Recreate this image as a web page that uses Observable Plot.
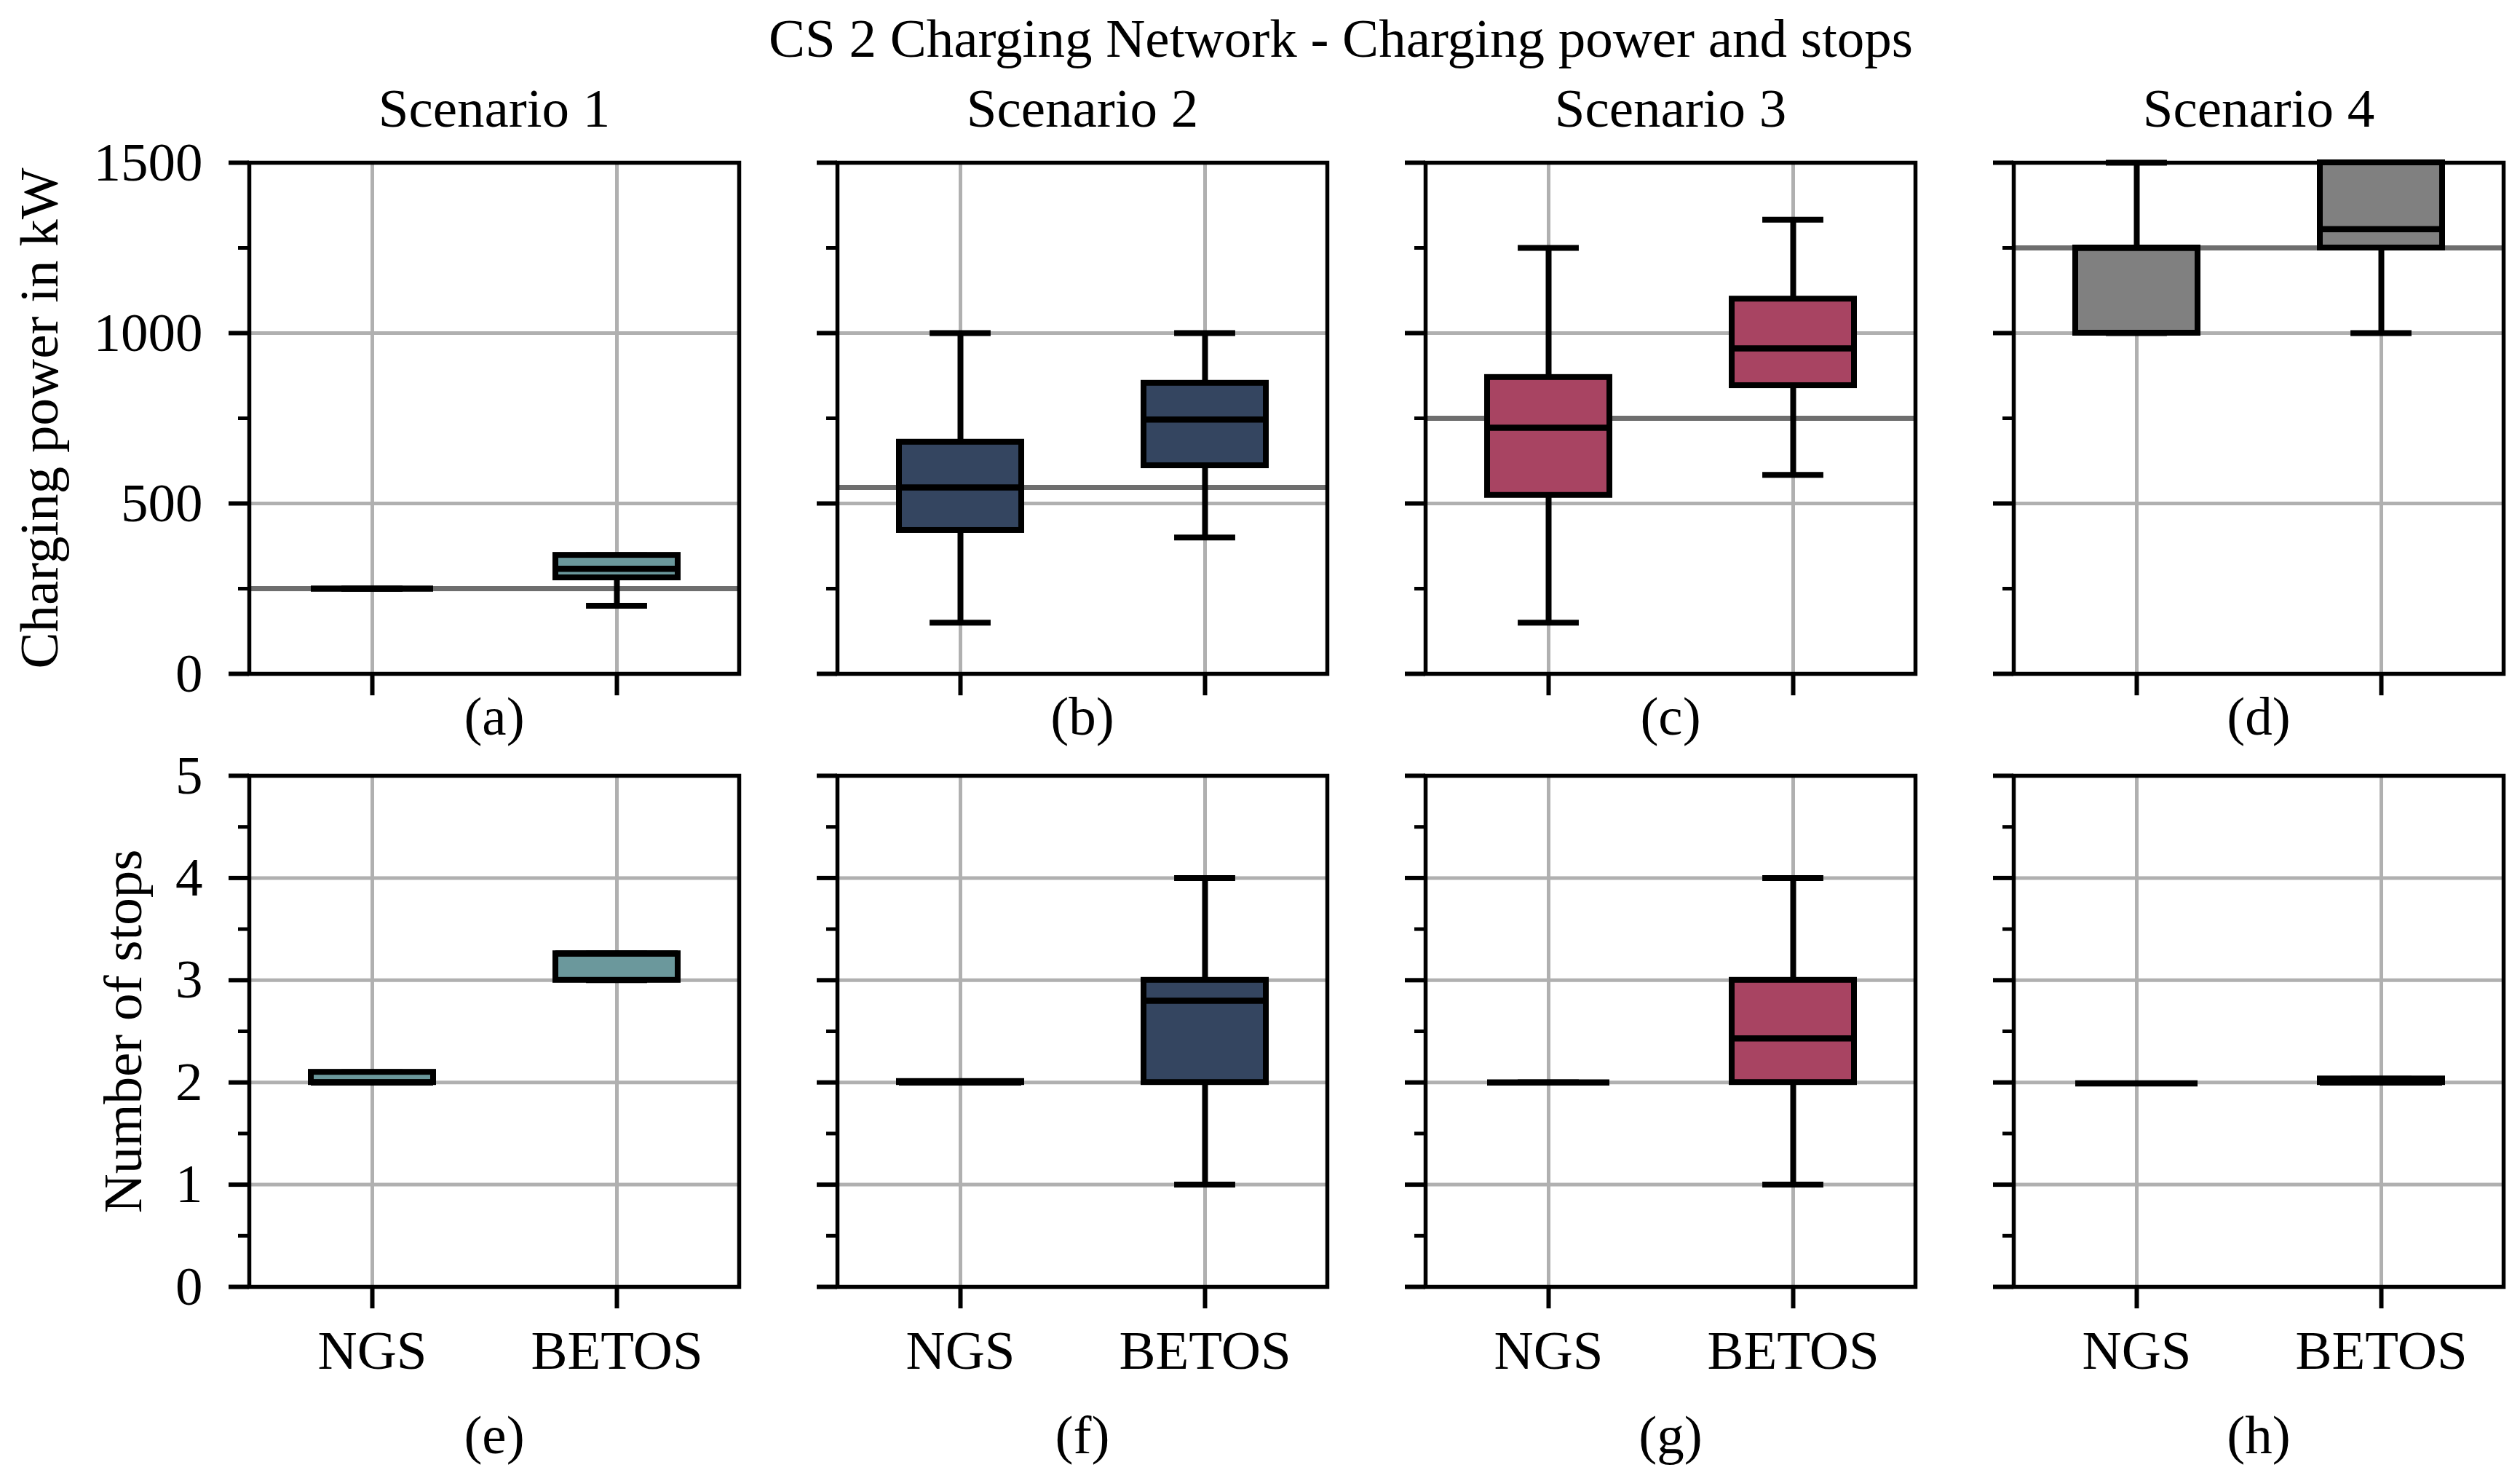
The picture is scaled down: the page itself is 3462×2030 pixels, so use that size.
<!DOCTYPE html>
<html>
<head>
<meta charset="utf-8">
<script src="https://cdn.jsdelivr.net/npm/d3@7"></script>
<script src="https://cdn.jsdelivr.net/npm/@observablehq/plot@0.6"></script>
<style>
  html, body { margin: 0; padding: 0; background: white; }
  #chart { position: relative; width: 3462px; height: 2030px; background: white; font-family: "Liberation Serif", serif; }
  #chart svg { position: absolute; background: transparent; }
  #title { position: absolute; top: 15px; left: 1842px; transform: translateX(-50%); font-size: 75px; line-height: 75px; white-space: nowrap; color: black; }
</style>
</head>
<body>
<div id="chart"><div id="title">CS 2 Charging Network - Charging power and stops</div></div>
<script>
const scenarios = ["Scenario 1", "Scenario 2", "Scenario 3", "Scenario 4"];
const categories = ["NGS", "BETOS"];
const scenarioColors = ["#6b989c", "#344560", "#a84462", "#808080"];
const powerLetters = ["(a)", "(b)", "(c)", "(d)"];
const stopsLetters = ["(e)", "(f)", "(g)", "(h)"];
const powerLabel = "Charging power in kW";
const stopsLabel = "Number of stops";
const powerTicks = [0, 500, 1000, 1500];
const powerMinorTicks = [250, 750, 1250];
const stopsTicks = [0, 1, 2, 3, 4, 5];
const stopsMinorTicks = [0.5, 1.5, 2.5, 3.5, 4.5];

// per scenario: [NGS, BETOS]
const powerMin    = [[250, 200], [150, 400], [150, 584], [1000, 1000]];
const powerQ1     = [[250, 282], [421, 611], [524, 846], [1000, 1250]];
const powerMedian = [[250, 308], [547, 746], [722, 955], [1250, 1305]];
const powerQ3     = [[250, 348], [680, 853], [870, 1100], [1250, 1500]];
const powerMax    = [[250, 348], [1000, 1000], [1250, 1333], [1500, 1500]];
const powerReference = [250, 547, 750, 1250];

const stopsMin    = [[2, 3], [2, 1], [2, 1], [1.99, 2]];
const stopsQ1     = [[2, 3], [2, 2], [2, 2], [1.99, 2]];
const stopsMedian = [[2, 3.26], [2, 2.8], [2, 2.43], [1.99, 2]];
const stopsQ3     = [[2.1, 3.26], [2.01, 3], [2, 3], [1.99, 2.035]];
const stopsMax    = [[2.1, 3.26], [2.01, 4], [2, 4], [1.99, 2.035]];

const chart = document.getElementById("chart");

const FRAME_W = 673, FRAME_H = 702;
const colLefts = [342, 1150, 1958, 2766];
const rows = [
  {frameTop: 223, marginTop: 123, marginBottom: 100, domain: [0, 1500], ticks: powerTicks, minor: powerMinorTicks,
   letters: powerLetters, label: powerLabel, labelX: 78, letterDy: 83, top: true,
   stats: [powerMin, powerQ1, powerMedian, powerQ3, powerMax], ref: powerReference},
  {frameTop: 1065, marginTop: 40, marginBottom: 250, domain: [0, 5], ticks: stopsTicks, minor: stopsMinorTicks,
   letters: stopsLetters, label: stopsLabel, labelX: 193, letterDy: 228, top: false,
   stats: [stopsMin, stopsQ1, stopsMedian, stopsQ3, stopsMax], ref: null}
];

const bandwidth = FRAME_W / 2 * 0.5;
const capInset = bandwidth / 4;

rows.forEach((row) => {
  scenarios.forEach((scen, s) => {
    const ML = s === 0 ? 342 : 60;
    const MR = 20;
    const data = categories.map((cat, c) => ({
      cat,
      lo: row.stats[0][s][c], q1: row.stats[1][s][c], med: row.stats[2][s][c],
      q3: row.stats[3][s][c], hi: row.stats[4][s][c]
    }));
    const marks = [
      Plot.gridY(row.ticks, {stroke: "#b0b0b0", strokeOpacity: 1, strokeWidth: 5}),
      Plot.gridX(categories, {stroke: "#b0b0b0", strokeOpacity: 1, strokeWidth: 5}),
    ];
    if (row.ref) marks.push(Plot.ruleY([row.ref[s]], {stroke: "#6e6e6e", strokeWidth: 7}));
    marks.push(
      Plot.ruleX(data, {x: "cat", y1: "lo", y2: "hi", stroke: "black", strokeWidth: 8}),
      Plot.tickY(data, {x: "cat", y: "lo", stroke: "black", strokeWidth: 8, insetLeft: capInset, insetRight: capInset}),
      Plot.tickY(data, {x: "cat", y: "hi", stroke: "black", strokeWidth: 8, insetLeft: capInset, insetRight: capInset}),
      Plot.barY(data, {x: "cat", y1: "q1", y2: "q3", fill: scenarioColors[s], stroke: "black", strokeWidth: 8}),
      Plot.tickY(data, {x: "cat", y: "med", stroke: "black", strokeWidth: 8.5}),
      Plot.frame({stroke: "black", strokeWidth: 5.5}),
      s === 0
        ? Plot.axisY({ticks: row.ticks, tickSize: 28, tickPadding: 36, strokeWidth: 6, label: null, tickFormat: d => String(d)})
        : Plot.axisY({ticks: row.ticks, tickSize: 28, strokeWidth: 6, fill: "none", label: null}),
      Plot.axisY({ticks: row.minor, tickSize: 15, strokeWidth: 5, fill: "none", label: null}),
      row.top
        ? Plot.axisX({tickSize: 30, strokeWidth: 6, fill: "none", label: null})
        : Plot.axisX({tickSize: 30, tickPadding: 29, strokeWidth: 6, label: null}),
      Plot.text([row.letters[s]], {frameAnchor: "bottom", lineAnchor: "bottom", dy: row.letterDy, fontSize: 75})
    );
    if (row.top) marks.push(Plot.text([scen], {frameAnchor: "top", lineAnchor: "bottom", dy: -50, fontSize: 75}));
    if (s === 0) marks.push(Plot.text([row.label], {frameAnchor: "left", textAnchor: "middle", rotate: -90, lineAnchor: "bottom", dx: row.labelX - 342, fontSize: 75}));

    const svg = Plot.plot({
      width: ML + FRAME_W + MR,
      height: row.marginTop + FRAME_H + row.marginBottom,
      marginLeft: ML, marginRight: MR, marginTop: row.marginTop, marginBottom: row.marginBottom,
      style: {fontFamily: "Liberation Serif", fontSize: "75px", background: "transparent", overflow: "visible", color: "black"},
      x: {type: "band", domain: categories, paddingInner: 0.5, paddingOuter: 0.25},
      y: {domain: row.domain},
      marks
    });
    svg.style.left = (colLefts[s] - ML) + "px";
    svg.style.top = (row.frameTop - row.marginTop) + "px";
    chart.appendChild(svg);
  });
});
</script>
</body>
</html>
